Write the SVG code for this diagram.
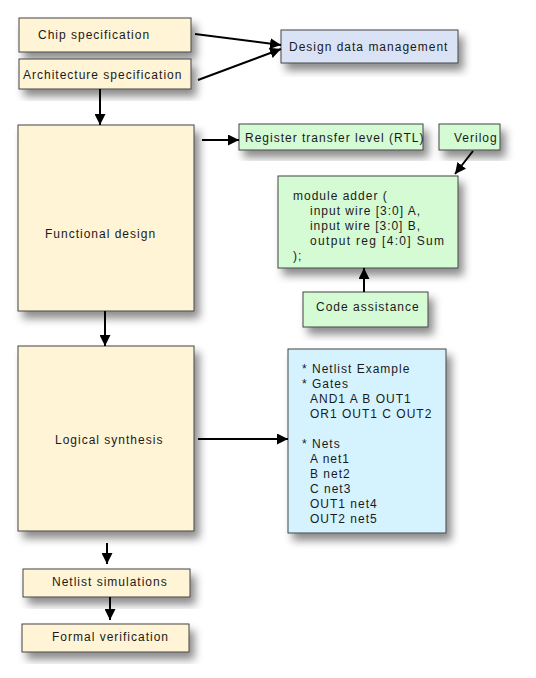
<svg xmlns="http://www.w3.org/2000/svg" width="536" height="678" viewBox="0 0 536 678">
<style>
  text { font-family: "Liberation Sans", Arial, sans-serif; font-size: 12px; letter-spacing: 1px; fill: #1a1a1a; }
  .box { stroke: #444; stroke-width: 1; filter: url(#shadow); }
  .yel { fill: #FFF4D6; }
  .blu { fill: #D9E3F5; }
  .grn { fill: #D5FBD5; }
  .cyn { fill: #D5F3FF; }
  .conn { stroke: #000; stroke-width: 2; fill: none; marker-end: url(#arrow); }
</style>
<defs>
  <filter id="shadow" x="-20%" y="-20%" width="150%" height="160%">
    <feDropShadow dx="5" dy="7" stdDeviation="4.5" flood-color="#000" flood-opacity="0.45"/>
  </filter>
  <marker id="arrow" viewBox="0 0 10 10" refX="10" refY="5" markerWidth="5.5" markerHeight="5.5" orient="auto" markerUnits="strokeWidth">
    <path d="M0,0 L10,5 L0,10 z" fill="#000"/>
  </marker>
</defs>
<rect width="536" height="678" fill="#fff"/>

<g id="chip-spec">
  <rect class="box yel" x="19" y="18" width="172" height="34"/>
  <text x="38" y="39">Chip specification</text>
</g>
<g id="arch-spec">
  <rect class="box yel" x="19" y="59" width="172" height="30"/>
  <text x="23" y="79">Architecture specification</text>
</g>
<g id="design-data">
  <rect class="box blu" x="281" y="30" width="177" height="33"/>
  <text x="289" y="51">Design data management</text>
</g>
<g id="functional-design">
  <rect class="box yel" x="18" y="125" width="176" height="186"/>
  <text x="45" y="238">Functional design</text>
</g>
<g id="rtl">
  <rect class="box grn" x="239" y="124" width="184" height="26"/>
  <text x="245" y="142">Register transfer level (RTL)</text>
</g>
<g id="verilog">
  <rect class="box grn" x="439" y="124" width="61" height="26"/>
  <text x="454" y="142">Verilog</text>
</g>
<g id="code">
  <rect class="box grn" x="278" y="176" width="180" height="92"/>
  <text x="293" y="199.5">module adder (</text>
  <text x="310" y="214.5" textLength="111" lengthAdjust="spacing">input wire [3:0] A,</text>
  <text x="310" y="229.5" textLength="111" lengthAdjust="spacing">input wire [3:0] B,</text>
  <text x="310" y="244.5" textLength="135" lengthAdjust="spacing">output reg [4:0] Sum</text>
  <text x="293" y="259.5">);</text>
</g>
<g id="code-assistance">
  <rect class="box grn" x="303" y="292" width="125" height="35"/>
  <text x="316" y="311">Code assistance</text>
</g>
<g id="logical-synthesis">
  <rect class="box yel" x="18" y="346" width="176" height="185"/>
  <text x="55" y="444">Logical synthesis</text>
</g>
<g id="netlist">
  <rect class="box cyn" x="288" y="349" width="158" height="184"/>
  <text x="302" y="373">* Netlist Example</text>
  <text x="302" y="388">* Gates</text>
  <text x="310" y="403">AND1 A B OUT1</text>
  <text x="310" y="418">OR1 OUT1 C OUT2</text>
  <text x="302" y="448">* Nets</text>
  <text x="310" y="463">A net1</text>
  <text x="310" y="478">B net2</text>
  <text x="310" y="493">C net3</text>
  <text x="310" y="508">OUT1 net4</text>
  <text x="310" y="523">OUT2 net5</text>
</g>
<g id="netlist-sim">
  <rect class="box yel" x="23" y="569" width="167" height="28"/>
  <text x="52" y="586">Netlist simulations</text>
</g>
<g id="formal-verification">
  <rect class="box yel" x="22" y="624" width="167" height="28"/>
  <text x="52" y="641">Formal verification</text>
</g>

<g id="connectors">
  <line class="conn" x1="195" y1="34" x2="281" y2="45"/>
  <line class="conn" x1="198" y1="80" x2="281" y2="49"/>
  <line class="conn" x1="100" y1="89" x2="100" y2="125"/>
  <line class="conn" x1="202" y1="140" x2="239" y2="140"/>
  <line class="conn" x1="473" y1="151" x2="455" y2="174"/>
  <line class="conn" x1="364" y1="292" x2="364" y2="268"/>
  <line class="conn" x1="105" y1="311" x2="105" y2="346"/>
  <line class="conn" x1="198" y1="439" x2="288" y2="439"/>
  <line class="conn" x1="107" y1="543" x2="107" y2="564"/>
  <line class="conn" x1="110" y1="597" x2="110" y2="620"/>
</g>
</svg>
